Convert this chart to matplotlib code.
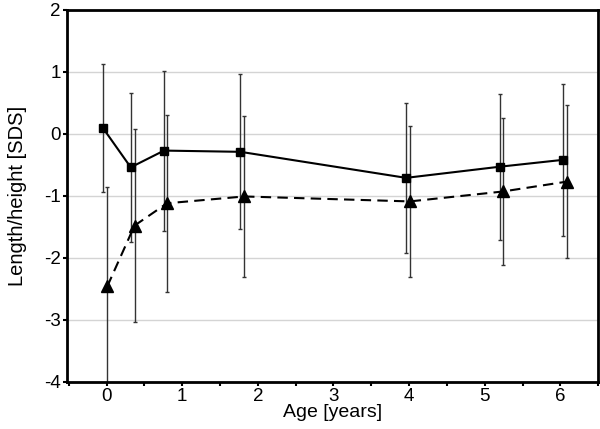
import numpy as np
import matplotlib.pyplot as plt

plt.rcParams['font.family'] = ['Liberation Sans', 'DejaVu Sans']
plt.rcParams['axes.unicode_minus'] = False

# squares (solid line)
age_sq = [-0.045, 0.32, 0.76, 1.77, 3.96, 5.20, 6.03]
sds_sq = [0.09, -0.54, -0.27, -0.29, -0.71, -0.53, -0.42]
sd_sq = [1.03, 1.20, 1.29, 1.25, 1.21, 1.18, 1.22]

# triangles (dashed line)
age_tri = [0.01, 0.37, 0.80, 1.82, 4.01, 5.24, 6.09]
sds_tri = [-2.46, -1.48, -1.12, -1.01, -1.09, -0.93, -0.77]
sd_tri = [1.61, 1.56, 1.43, 1.30, 1.22, 1.19, 1.23]

xticks = [0, 1, 2, 3, 4, 5, 6]
yticks = [-4, -3, -2, -1, 0, 1, 2]

fig = plt.figure(figsize=(6, 4.29), dpi=100)
ax = fig.add_axes([0.112, 0.110, 0.885, 0.867])

ax.set_axisbelow(True)
ax.yaxis.grid(True, color='#d4d4d4', linewidth=1)

ax.errorbar(age_sq, sds_sq, yerr=sd_sq, fmt='none', ecolor='#333333',
            elinewidth=1, capsize=1.5, capthick=1)
ax.errorbar(age_tri, sds_tri, yerr=sd_tri, fmt='none', ecolor='#333333',
            elinewidth=1, capsize=1.5, capthick=1)

ax.plot(age_sq, sds_sq, '-', color='black', linewidth=1.5,
        marker='s', markersize=6)
ax.plot(age_tri, sds_tri, '--', color='black', linewidth=1.5,
        dashes=(5, 3), marker='^', markersize=8)

ax.set_xlim(-0.52, 6.5)
ax.set_ylim(-4, 2)
ax.set_xticks(xticks)
ax.set_xticks(np.arange(-0.5, 6.6, 1.0), minor=True)
ax.set_yticks(yticks)
ax.tick_params(axis='both', which='both', direction='out', length=3,
               width=1.5, labelsize=13.5, pad=1.5)

for s in ax.spines.values():
    s.set_linewidth(2)
    s.set_color('black')

ax.set_xlabel('Age [years]', fontsize=14, labelpad=-1)
ax.set_ylabel('Length/height [SDS]', fontsize=14.5, labelpad=12)

fig.savefig('out.png', dpi=100)
